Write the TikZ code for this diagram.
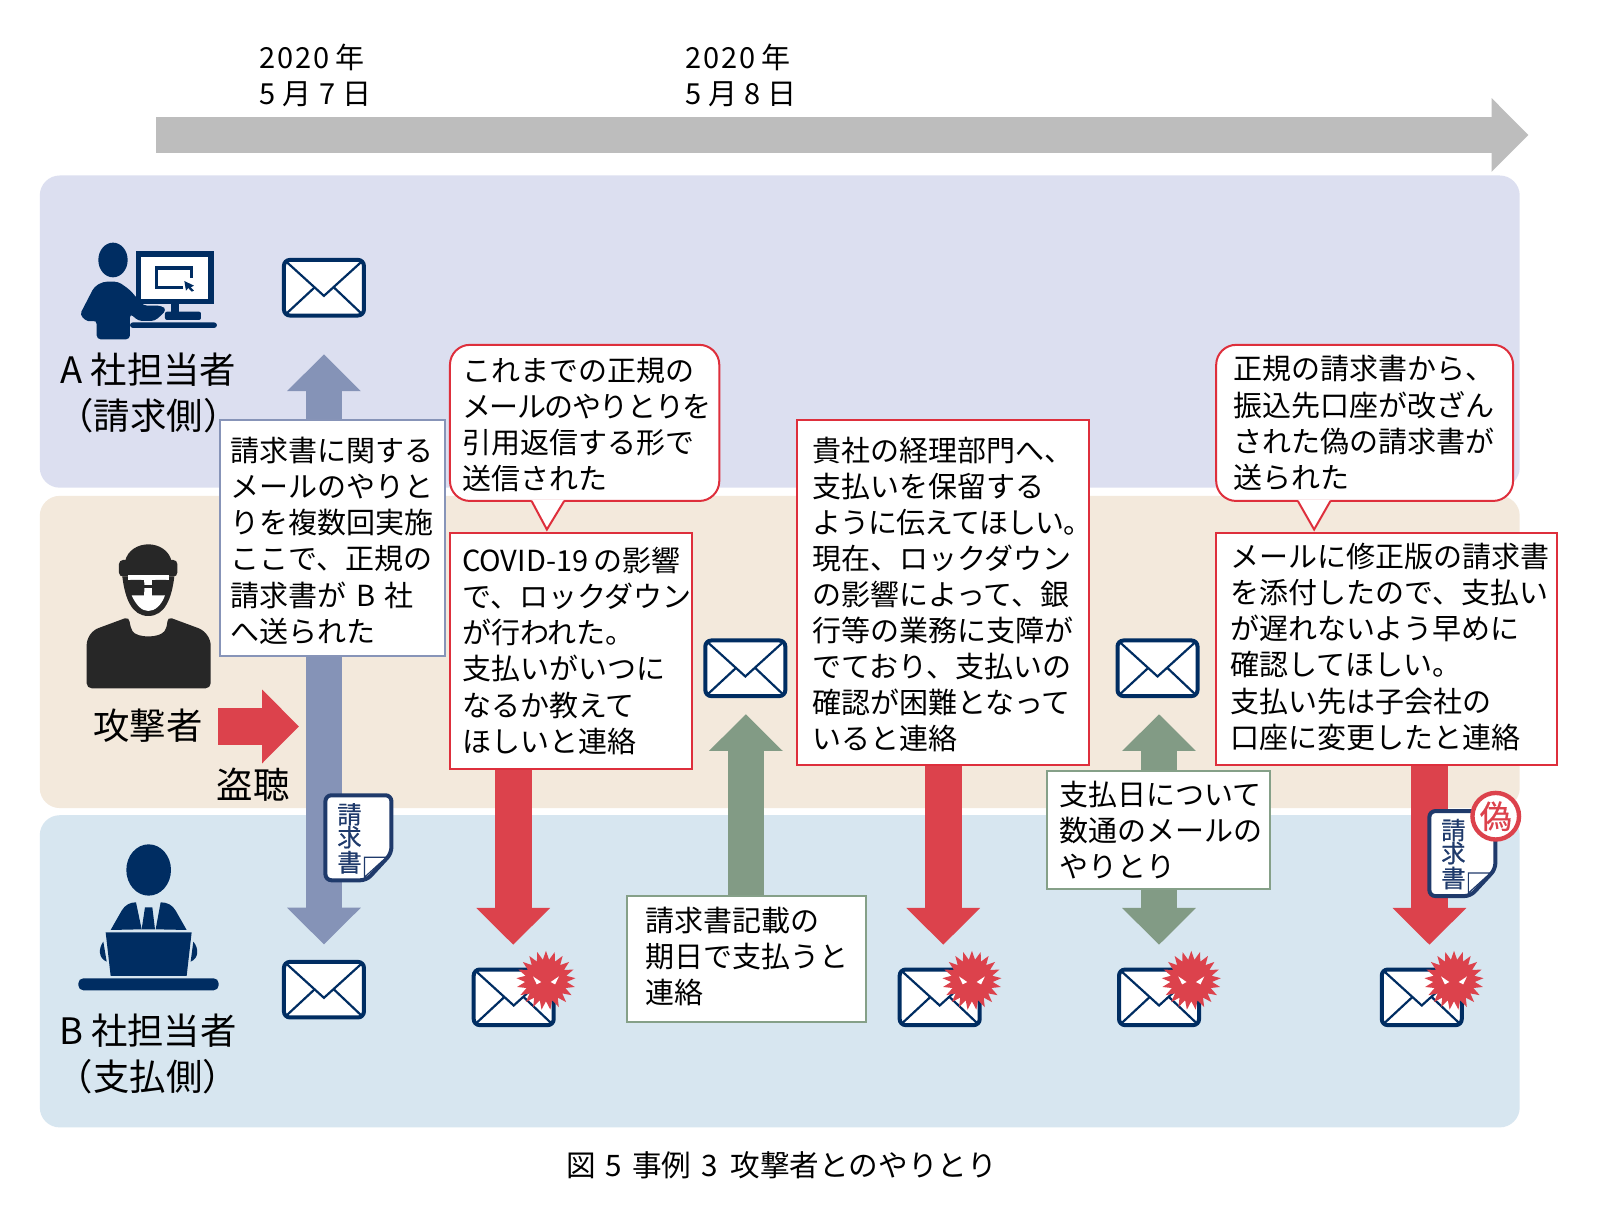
\documentclass[tikz,border=0pt]{standalone}
\usepackage{fontspec}
\setmainfont{Noto Sans CJK JP}
\newfontfamily\tightf[LetterSpace=-5]{Noto Sans CJK JP}
\newfontfamily\semif[LetterSpace=-3]{Noto Sans CJK JP}
\newfontfamily\widef[LetterSpace=7]{Noto Sans CJK JP}
\newfontfamily\docf[FakeBold=0.5]{Noto Sans CJK JP}
\usetikzlibrary{arrows.meta,shapes.geometric}
\definecolor{navy}{HTML}{002D62}
\definecolor{docnavy}{HTML}{1F3A6B}
\definecolor{laneA}{HTML}{DCDFF0}
\definecolor{laneB}{HTML}{F3E9DC}
\definecolor{laneC}{HTML}{D7E6F0}
\definecolor{tlgray}{HTML}{BDBDBD}
\definecolor{arrblue}{HTML}{8593B7}
\definecolor{arrred}{HTML}{DC424C}
\definecolor{arrgreen}{HTML}{829B85}
\definecolor{edgered}{HTML}{DE2F3C}
\definecolor{edgeblue}{HTML}{8794B8}
\definecolor{edgegreen}{HTML}{85A088}
\definecolor{dark}{HTML}{272727}
\tikzset{
  lane/.style={rounded corners=10pt},
  bodytext/.style={font=\fontsize{14.5}{18.05}\selectfont,inner sep=0pt,align=left},
  lanetext/.style={font=\fontsize{18.2}{23}\selectfont,inner sep=0pt,align=center},
  bigtip/.style={line width=18.3pt},
  tipfwd/.style={-{Triangle[length=18.4pt,width=35.8pt]}},
  tipboth/.style={{Triangle[length=18.4pt,width=35.8pt]}-{Triangle[length=18.4pt,width=35.8pt]}},
  tbox/.style={draw,fill=white,line width=1pt,align=left,inner ysep=0pt,font=\fontsize{14.5}{18.05}\selectfont},
  redbox/.style={tbox,draw=edgered},
  bluebox/.style={tbox,draw=edgeblue},
  greenbox/.style={tbox,draw=edgegreen},
  callbox/.style={tbox,draw=edgered,rounded corners=10pt},
  envbox/.style={draw=navy,fill=white,line width=2pt,rounded corners=3pt,minimum width=40pt,minimum height=27.8pt,inner sep=0pt},
  envline/.style={draw=navy,line width=1.1pt},
  virus/.style={star,star points=21,star point ratio=1.42,fill=arrred,minimum size=29.6pt,inner sep=0pt},
  zoomA/.style={scale=0.9801,shift={(75,235)},scale=1/3},
  zoomB/.style={scale=0.9801,shift={(40,520)},scale=1/3},
  zoomC/.style={scale=0.9801,shift={(40,820)},scale=1/3},
  docchar/.style={font=\docf\fontsize{12.2}{13}\selectfont,text=docnavy,inner sep=0pt},
}
\newcommand\textbx[8]{%
  \pgfmathsetmacro\bxw{(#5-#3)*0.51015}%
  \pgfmathsetmacro\bxh{(#6-#4)*0.51015}%
  \pgfmathsetmacro\bxs{(#7-#3)*0.51015}%
  \pgfmathsetmacro\bxt{\bxw-2*\bxs}%
  \node[#1,minimum width=\bxw pt,minimum height=\bxh pt,inner xsep=\bxs pt,text width=\bxt pt] (#2) at ({(#3+#5)/2},{(#4+#6)/2}) {#8};%
}
\newcommand\envicon[3]{%
  \node[envbox] (#1) at (#2,#3) {};
  \begin{scope}[shift={(#1.center)}]
    \draw[envline] (-38,-26.5) -- (0,8) -- (38,-26.5);
    \draw[envline] (-38,26.5) -- (-9.5,0);
    \draw[envline] (38,26.5) -- (9.5,-0.5);
  \end{scope}
}
\newcommand\malenv[3]{%
  \envicon{#1}{#2}{#3}
  \node[virus] (#1v) at (#2+31.6,#3-16.6) {};
  \begin{scope}[shift={(#1v.center)}]
    \fill[white] (-12.7,-3.9) -- (-4.6,1.6) -- (-9,3.9) -- cycle;
    \fill[white] (12.7,-3.9) -- (4.6,1.6) -- (9,3.9) -- cycle;
  \end{scope}
}
\newcommand\docicon[3]{%
  \begin{scope}[shift={(#2,#3)},scale=0.9801]
    \draw[draw=docnavy,fill=white,line width=2pt,rounded corners=3pt] (2,2) -- (68,2) -- (68,60) -- (43,87) -- (2,87) -- cycle;
    \draw[draw=docnavy,fill=white,line width=.6pt] (41,64) -- (63,64) -- (41,84) -- cycle;
    \node[docchar] (#1a) at (26,21) {請};
    \node[docchar] (#1b) at (26,44) {求};
    \node[docchar] (#1c) at (26,69) {書};
  \end{scope}
}
\begin{document}
\begin{tikzpicture}[x=0.51015pt,y=-0.51015pt]
\path[use as bounding box,fill=white] (0,0) rectangle (1568.2,1195.7);
% lanes
\fill[lane,laneA] (39,172) rectangle (1489.5,478);
\fill[lane,laneB] (39,486) rectangle (1489.5,792);
\fill[lane,laneC] (39,799) rectangle (1489.5,1105);
% timeline
\coordinate (tlstart) at (153,132.3);
\coordinate (tlend) at (1498,132.3);
\draw[tlgray,bigtip,tipfwd] (tlstart) -- (tlend);
\node[bodytext,anchor=west] (date1) at (254,74) {{\widef 2020}\kern3pt 年\\5\kern3.6pt 月\kern3.6pt 7\kern3.6pt 日};
\node[bodytext,anchor=west] (date2) at (671,74) {{\widef 2020}\kern3pt 年\\5\kern3.6pt 月\kern3.6pt 8\kern3.6pt 日};
% envelopes
\envicon{envA}{317.5}{282}
\envicon{envB}{317.5}{970}
\envicon{envM}{730.5}{655}
\envicon{envN}{1134.5}{655}
\malenv{mal1}{503.5}{977.5}
\malenv{mal2}{921}{977.5}
\malenv{mal3}{1136}{977.5}
\malenv{mal4}{1393.5}{977.5}
% person A
\begin{scope}[zoomA]
  \fill[navy] (114,75) ellipse (44 and 52);
  \fill[navy,rounded corners=2pt] (65,313) -- (65,255) -- (40,262) -- (14,240) -- (58,155) -- (85,140) -- (130,140) -- (165,165) -- (205,212) -- (260,212) -- (275,225) -- (240,258) -- (190,258) -- (165,235) -- (165,313) -- cycle;
  \fill[navy,rounded corners=1.5pt] (165,262) rectangle (426,279);
  \fill[navy,rounded corners=1pt] (270,230) rectangle (378,255);
  \fill[navy] (287,200) rectangle (313,235);
  \fill[navy] (183,48) rectangle (416,207);
  \fill[white] (199,65) rectangle (399,192);
  \draw[navy,line width=1.7pt] (325,157) -- (245,157) -- (245,99) -- (350,99) -- (350,130);
  \fill[navy] (328,138) -- (357,152) -- (347,157) -- (357,167) -- (350,170) -- (340,159) -- (333,167) -- cycle;
\end{scope}
% attacker
\begin{scope}[zoomB]
  \fill[dark,rounded corners=2.5pt] (140,505) -- (140,360) -- (160,330) -- (268,290) -- (270,320) .. controls (290,355) and (360,355) .. (382,320) -- (382,290) -- (490,330) -- (512,360) -- (512,505) -- cycle;
  \fill[dark] (247,170) .. controls (255,235) and (275,288) .. (325,288) .. controls (375,288) and (395,235) .. (403,170) -- cycle;
  \fill[dark] (255,125) .. controls (262,90) and (295,73) .. (325,73) .. controls (355,73) and (388,90) .. (395,125) -- cycle;
  \fill[dark,rounded corners=2pt] (237,120) rectangle (412,170);
  \fill[white] (263,165) rectangle (387,180);
  \fill[white] (312,178) rectangle (337,230);
  \fill[white] (275,226) -- (375,226) .. controls (365,255) and (345,273) .. (325,273) .. controls (305,273) and (288,255) .. (275,226) -- cycle;
  \fill[dark,rounded corners=1.5pt] (262,180) rectangle (313,223);
  \fill[dark,rounded corners=1.5pt] (337,180) rectangle (388,223);
  \fill[dark] (310,195) rectangle (340,205);
\end{scope}
% person B
\begin{scope}[zoomC]
  \fill[navy] (326,150) ellipse (67 and 77);
  \fill[navy] (212,330) -- (245,272) .. controls (255,255) and (270,247) .. (288,247) -- (305,328) -- cycle;
  \fill[navy] (440,330) -- (407,272) .. controls (397,255) and (382,247) .. (362,247) -- (347,328) -- cycle;
  \fill[navy] (315,262) -- (337,262) -- (345,328) -- (305,328) -- cycle;
  \fill[navy] (197,337) -- (455,337) -- (440,468) -- (212,468) -- cycle;
  \fill[navy] (190,365) .. controls (175,385) and (175,415) .. (200,425) -- cycle;
  \fill[navy] (460,365) .. controls (477,385) and (477,415) .. (452,425) -- cycle;
  \fill[navy,rounded corners=2.5pt] (115,475) rectangle (536,511);
\end{scope}
% lane labels
\node[lanetext] (labelA) at (145.5,385.5) {A 社担当者\\（請求側）};
\node[lanetext] (labelB) at (145,1033) {B 社担当者\\（支払側）};
\node[lanetext] (labelC) at (145,711) {攻撃者};
\node[lanetext] (labelD) at (248,769) {盗聴};
% flow arrows
\coordinate (snoopStart) at (214,712);
\coordinate (snoopEnd) at (293,712);
\draw[arrred,bigtip,tipfwd] (snoopStart) -- (snoopEnd);
\draw[arrblue,bigtip,tipboth,shorten <=18.4pt,shorten >=7.7pt] (envA.south) -- (envB.north);
\coordinate (redA) at (503,752);
\coordinate (redAend) at (503,926);
\draw[arrred,bigtip,tipfwd] (redA) -- (redAend);
\coordinate (redB) at (924.5,748);
\coordinate (redBend) at (924.5,926);
\draw[arrred,bigtip,tipfwd] (redB) -- (redBend);
\coordinate (redC) at (1401,748);
\coordinate (redCend) at (1401,926);
\draw[arrred,bigtip,tipfwd] (redC) -- (redCend);
\coordinate (grnA) at (731,880);
\coordinate (grnAend) at (731,700);
\draw[arrgreen,bigtip,tipfwd] (grnA) -- (grnAend);
\coordinate (grnB) at (1136,700);
\coordinate (grnBend) at (1136,926);
\draw[arrgreen,bigtip,tipboth] (grnB) -- (grnBend);
% boxes
\textbx{bluebox}{boxInv}{215.5}{411.5}{436}{643}{226}{\rule{0pt}{15pt}請求書に関する\\メールのやりと\\りを複数回実施\\ここで、正規の\\請求書が B 社\\へ送られた}
\textbx{redbox}{boxCovid}{441.5}{522}{678}{754}{453}{\mbox{COVID-19\kern2.5pt の影響}\\で、ロックダウン\\が行われた。\\支払いがいつに\\なるか教えて\\ほしいと連絡}
\textbx{callbox}{callA}{441}{338}{705}{491}{453}{\rule{0pt}{14pt}これまでの正規の\\{\tightf メールのやりとりを}\\引用返信する形で\\送信された}
\textbx{greenbox}{boxDue}{615}{878}{849}{1002}{633}{請求書記載の\\期日で支払うと\\連絡\rule[-3.9pt]{0pt}{0pt}}
\textbx{redbox}{boxHold}{781}{412}{1067}{750}{796}{\rule{0pt}{14pt}貴社の経理部門へ、\\支払いを保留する\\{\semif ように伝えてほしい。}\\現在、ロックダウン\\の影響によって、銀\\行等の業務に支障が\\でており、支払いの\\確認が困難となって\\いると連絡}
\textbx{greenbox}{boxPay}{1026}{756}{1245}{871}{1038}{支払日について\\数通のメールの\\やりとり}
\textbx{redbox}{boxFix}{1192}{522}{1526}{750}{1206}{メールに修正版の請求書\\を添付したので、支払い\\が遅れないよう早めに\\確認してほしい。\\支払い先は子会社の\\口座に変更したと連絡\rule[-3.2pt]{0pt}{0pt}}
\textbx{callbox}{callB}{1192}{338}{1483}{491}{1209}{正規の請求書から、\\振込先口座が改ざん\\された偽の請求書が\\送られた}
% callout pointers
\coordinate (tipA) at (536,519);
\coordinate (tipB) at (1288,519);
\fill[white] (521,490) -- (tipA) -- (553,490) -- cycle;
\draw[edgered,line width=1pt] (521,491) -- (tipA) -- (553,491);
\fill[white] (1272,490) -- (tipB) -- (1304,490) -- cycle;
\draw[edgered,line width=1pt] (1272,491) -- (tipB) -- (1304,491);
% invoice icons
\docicon{docA}{317}{777.5}
\docicon{docB}{1399}{793}
\node[draw=arrred,fill=white,line width=2.2pt,circle,minimum size=23.3pt,inner sep=0pt] (fake) at (1466,800) {};
\node[inner sep=0pt,font=\docf\fontsize{16}{17}\selectfont,text=arrred] (fakechar) at (fake.center) {偽};
% caption
\node[font=\fontsize{14.8}{18}\selectfont,inner sep=0pt] (caption) at (766,1142) {図\hspace{5pt}5\hspace{5pt}事例\hspace{5pt}3\hspace{6.5pt}攻撃者とのやりとり};
\end{tikzpicture}
\end{document}
